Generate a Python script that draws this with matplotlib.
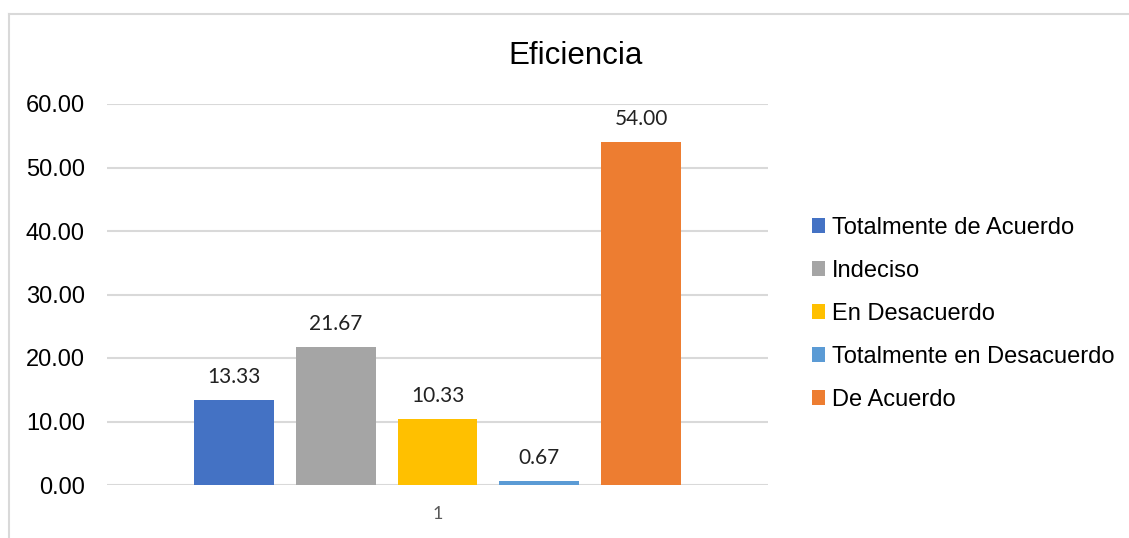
import matplotlib.pyplot as plt
from matplotlib.lines import Line2D
from matplotlib.patches import Patch

# datos de la grafica
titulo = "Eficiencia"
grupo = "1"
categorias = ["Totalmente de Acuerdo", "Indeciso", "En Desacuerdo",
              "Totalmente en Desacuerdo", "De Acuerdo"]
valores = [13.33, 21.67, 10.33, 0.67, 54.00]
colores = ["#4472C4", "#A5A5A5", "#FFC000", "#5B9BD5", "#ED7D31"]
yticks = [0, 10, 20, 30, 40, 50, 60]

W, H = 1129, 538
fig = plt.figure(figsize=(W / 100, H / 100), dpi=100)
ax = fig.add_axes([107 / W, 1 - 485 / H, (768 - 107) / W, (485 - 104) / H])

paso = 0.154
ancho = 0.121
n = len(valores)
for i, (cat, v, c) in enumerate(zip(categorias, valores, colores)):
    x = (i - (n - 1) / 2) * paso
    ax.bar(x, v, width=ancho, color=c, zorder=3)
    ax.annotate(f"{v:.2f}", (x, v), xytext=(0, 12.2), textcoords="offset points",
                ha="center", va="baseline", fontsize=15, family="Lato",
                color="#222222")

ax.set_xlim(-0.5, 0.5)
ax.set_ylim(0, 60)
ax.set_yticks(yticks)
ax.set_yticklabels([f"{t:.2f}" for t in yticks], fontsize=17,
                   family="Liberation Sans", color="#000000")
ax.set_xticks([0])
ax.set_xticklabels([grupo], fontsize=13, family="Lato", color="#595959")
ax.tick_params(axis="y", length=0, pad=16)
ax.tick_params(axis="x", length=0, pad=15)
ax.grid(axis="y", color="#D9D9D9", linewidth=1.5, zorder=0)
for s in ax.spines.values():
    s.set_visible(False)

fig.text(576 / W, 1 - 64 / H, titulo, ha="center", va="baseline",
         fontsize=22.5, family="Liberation Sans")

handles = [Patch(facecolor=c, edgecolor="none") for c in colores]
fig.legend(handles, categorias, loc="upper left",
           bbox_to_anchor=(800 / W, 1 - 205 / H), frameon=False,
           prop={"family": "Liberation Sans", "size": 17},
           handlelength=0.55, handleheight=0.55, handletextpad=0.3,
           labelspacing=0.89, borderpad=0)

# borde del area del grafico
fig.add_artist(Line2D([8.5 / W, 8.5 / W], [0, 1 - 13.5 / H],
                      transform=fig.transFigure, color="#D9D9D9", linewidth=1.5))
fig.add_artist(Line2D([8.5 / W, 1], [1 - 13.5 / H, 1 - 13.5 / H],
                      transform=fig.transFigure, color="#D9D9D9", linewidth=1.5))

fig.savefig("out.png", dpi=100)
